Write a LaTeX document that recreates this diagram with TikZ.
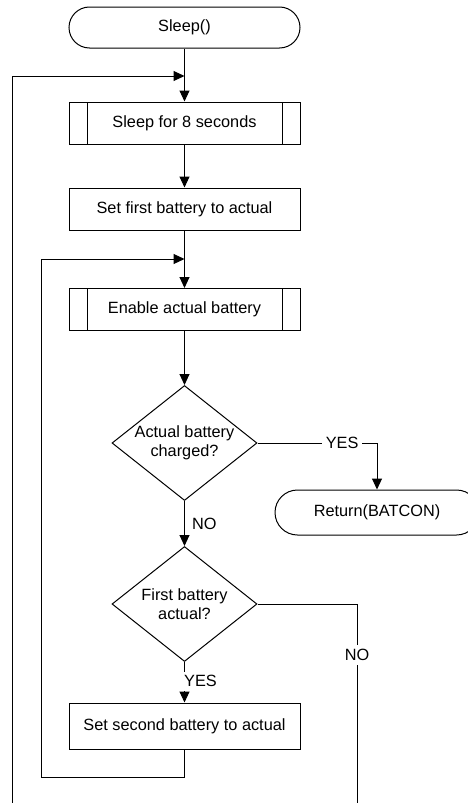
\documentclass[tikz,border=0pt]{standalone}
\usepackage{fontspec}
\setmainfont{Liberation Sans}
\usetikzlibrary{positioning,shapes.geometric,arrows.meta}
\tikzset{
  box/.style={draw,rectangle,minimum width=231pt,minimum height=42pt,inner sep=0pt},
  sub/.style={box,path picture={
    \draw([xshift=18pt]path picture bounding box.north west)--([xshift=18pt]path picture bounding box.south west);
    \draw([xshift=-18pt]path picture bounding box.north east)--([xshift=-18pt]path picture bounding box.south east);}},
  term/.style={draw,rectangle,rounded corners=20.5pt,minimum width=231pt,minimum height=41pt,inner sep=0pt},
  test/.style={draw,diamond,aspect=1.26,inner sep=0pt,minimum width=145pt,minimum height=115pt,align=center},
  lbl/.style={fill=white,inner sep=4pt},
}
\begin{document}
\begin{tikzpicture}[x=1pt,y=1pt,line width=1pt,>={Triangle[length=11pt,width=10pt]},font=\fontsize{16.3}{19}\selectfont]
\clip(0,0) rectangle (468,-803);
\node[term](S) at (184.5,-27.5){Sleep()};
\node[sub,node distance=95.5pt,below of = S](W){Sleep for 8 seconds};
\node[box,node distance=86pt,below of = W](F){Set first battery to actual};
\node[sub,node distance=100.5pt,below of = F](E){Enable actual battery};
\node[test,node distance=133.5pt,below of = E](D1){Actual battery\\charged?};
\node[test,node distance=161pt,below of = D1](D2){First battery\\actual?};
\node[box,node distance=122pt,below of = D2,minimum height=46pt](B2){Set second battery to actual};
\node[term,node distance=192.5pt,right of = D1,yshift=-69.5pt,minimum width=204pt,minimum height=45pt,rounded corners=22.5pt](R){Return(BATCON)};
\coordinate[node distance=48.5pt,below of = S](J1);
\coordinate[node distance=50pt,below of = F](J2);
\coordinate(L1) at (12,-803);
\coordinate(L2) at (41,-777);
\coordinate(N1) at (357,-803);
\draw[->](S)--(W);
\draw[->](W)--(F);
\draw[->](F)--(E);
\draw[->](E)--(D1);
\draw[->](D1)--node[right,inner sep=7pt]{NO}(D2);
\draw[->](D1.east)-|node[lbl,pos=0.354]{YES}(R.north);
\draw[->](D2)--node[lbl,pos=0.476,xshift=16pt]{YES}(B2);
\draw(D2.east)-|node[lbl,pos=0.628]{NO}(N1);
\draw(B2)|-(L2);
\draw[->](L2)|-(J2);
\draw[->](L1)|-(J1);
\end{tikzpicture}
\end{document}
